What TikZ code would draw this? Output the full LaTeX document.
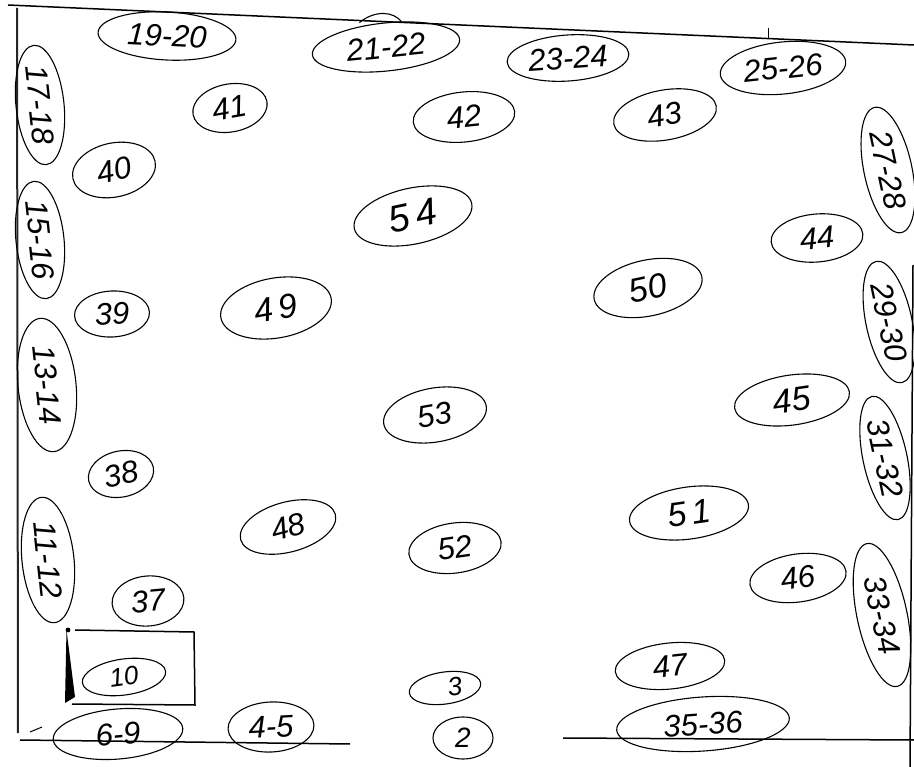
\documentclass[tikz,border=0pt]{standalone}
\usepackage{fontspec}
\setmainfont{Liberation Sans}
\usetikzlibrary{shapes.geometric}
\tikzset{
  oval/.style={draw=black,ellipse,line width=1.1pt,inner sep=0pt,font=\itshape\fontsize{31}{31}\selectfont},
  rule/.style={draw=black!85,line width=2pt},
  thinrule/.style={draw=black,line width=1.5pt}
}
\newcommand{\ov}[7]{\node[oval,minimum width=#4 pt,minimum height=#5 pt,rotate=#6] (#1) at (#2,#3) {#7};}
\begin{document}
\begin{tikzpicture}[x=1pt,y=-1pt]
\useasboundingbox (0,0) rectangle (914,767);
\fill[white] (0,0) rectangle (914,767);
\coordinate (tl) at (8,5); \coordinate (tr) at (914,45);
\coordinate (lt) at (17,8); \coordinate (lb) at (18,733);
\coordinate (bl1) at (20,740); \coordinate (bl2) at (350,744);
\coordinate (br1) at (563,738); \coordinate (br2) at (914,740);
\coordinate (rt) at (913,265); \coordinate (rb) at (910,767);
\coordinate (tk1) at (768,28); \coordinate (tk2) at (768,38);
\coordinate (d1) at (30,732); \coordinate (d2) at (42,727);
\draw[thinrule] (tl)--(tr);
\draw[rule] (lt)--(lb);
\draw[thinrule] (bl1)--(bl2);
\draw[thinrule] (br1)--(br2);
\draw[thinrule] (rt)--(rb);
\draw[line width=1pt] (tk1)--(tk2);
\draw[line width=1pt] (d1)--(d2);
\coordinate (r1) at (75,630); \coordinate (r2) at (194,632); \coordinate (r3) at (195,705);
\coordinate (r4) at (72,704); \coordinate (r5) at (68,630); \coordinate (r6) at (65,703);
\draw[thinrule] (r1)--(r2)--(r3)--(r4);
\fill (r5) circle (2.4pt);
\fill (r5)++(-1.5,0) -- (r6) -- (75,697) -- cycle;
\ov{a}{167}{36}{138}{48}{-3}{19-20}
\ov{b}{386}{47}{148}{48}{6}{21-22}
\ov{c}{568}{58}{122}{46}{4}{23-24}
\ov{d}{783}{68}{126}{52}{6}{25-26}
\ov{e}{230}{108}{75}{48}{10}{41}
\ov{f}{114}{170}{84}{54}{12}{40}
\ov{g}{464}{117}{102}{50}{6}{42}
\ov{h}{665}{115}{104}{50}{10}{43}
\ov{i}{413}{216}{120}{56}{12}{\fontsize{38}{38}\selectfont 5\,4}
\ov{j}{817}{238}{92}{48}{5}{44}
\ov{k}{648}{288}{110}{56}{12}{\fontsize{34}{34}\selectfont 50}
\ov{l}{112}{314}{75}{46}{3}{39}
\ov{m}{276}{308}{112}{60}{10}{\fontsize{34}{34}\selectfont 4\,9}
\ov{n}{435}{415}{104}{54}{10}{53}
\ov{o}{792}{400}{116}{50}{8}{\fontsize{34}{34}\selectfont 45}
\ov{p}{121}{474}{66}{46}{12}{38}
\ov{q}{689}{513}{120}{52}{8}{\fontsize{34}{34}\selectfont 5\,1}
\ov{r}{288}{527}{98}{50}{15}{48}
\ov{s}{455}{548}{93}{50}{8}{52}
\ov{t}{798}{578}{97}{48}{8}{46}
\ov{u}{148}{601}{72}{50}{5}{37}
\ov{v}{124}{677}{84}{36}{8}{\fontsize{26}{26}\selectfont 10}
\ov{w}{118}{734}{130}{50}{5}{6-9}
\ov{x}{271}{727}{86}{50}{3}{4-5}
\ov{y}{445}{688}{72}{32}{8}{\hspace*{20pt}\fontsize{26}{26}\selectfont 3}
\ov{z}{463}{738}{60}{42}{0}{\fontsize{28}{28}\selectfont 2}
\ov{aa}{670}{666}{110}{46}{6}{47}
\ov{ab}{703}{724}{173}{54}{4}{35-36}
\ov{ac}{40}{105}{120}{48}{-84}{17-18}
\ov{ad}{40}{240}{118}{48}{-84}{15-16}
\ov{ae}{47}{385}{134}{58}{-84}{13-14}
\ov{af}{48}{560}{126}{52}{-84}{11-12}
\ov{ag}{888}{170}{128}{48}{-78}{27-28}
\ov{ah}{889}{322}{124}{46}{-78}{29-30}
\ov{ai}{885}{458}{126}{44}{-78}{31-32}
\ov{aj}{882}{615}{146}{50}{-78}{33-34}
\draw[line width=1.1pt] ([shift={(-24,0)}]b.north) .. controls ([shift={(-8,-13)}]b.north) and ([shift={(10,-11)}]b.north) .. ([shift={(18,-1)}]b.north);
\end{tikzpicture}
\end{document}
